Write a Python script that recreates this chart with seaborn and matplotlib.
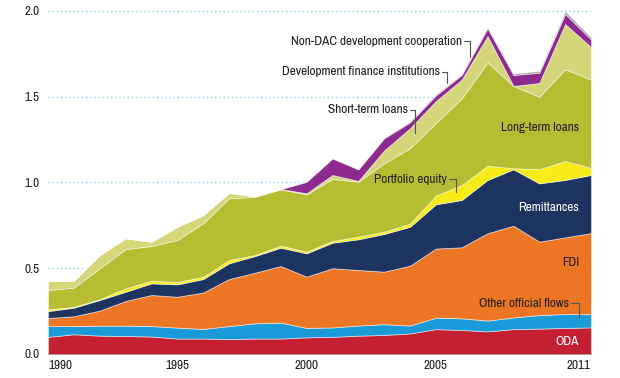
import numpy as np
import pandas as pd
import matplotlib
matplotlib.use("Agg")
import matplotlib.pyplot as plt
from matplotlib import font_manager as fm
import seaborn as sns

years = list(range(1990, 2012))

# layer values, bottom to top
oda = [0.100, 0.115, 0.107, 0.105, 0.102, 0.090, 0.090, 0.087, 0.090, 0.090, 0.097,
       0.100, 0.107, 0.111, 0.120, 0.145, 0.140, 0.132, 0.145, 0.148, 0.152, 0.155]
other_official = [0.063, 0.048, 0.058, 0.060, 0.061, 0.064, 0.056, 0.076, 0.089, 0.093, 0.055,
                  0.055, 0.059, 0.063, 0.046, 0.067, 0.068, 0.063, 0.068, 0.079, 0.081, 0.077]
fdi = [0.047, 0.057, 0.088, 0.144, 0.181, 0.180, 0.212, 0.274, 0.295, 0.330, 0.299,
       0.345, 0.324, 0.306, 0.349, 0.403, 0.414, 0.509, 0.535, 0.428, 0.447, 0.473]
remittances = [0.040, 0.050, 0.062, 0.054, 0.068, 0.072, 0.079, 0.092, 0.097, 0.107, 0.136,
               0.149, 0.179, 0.220, 0.227, 0.258, 0.276, 0.311, 0.329, 0.340, 0.335, 0.339]
portfolio_equity = [0.010, 0.005, 0.005, 0.020, 0.015, 0.014, 0.013, 0.019, 0.006, 0.012, 0.010,
                    0.010, 0.015, 0.013, 0.018, 0.050, 0.087, 0.083, 0.006, 0.083, 0.110, 0.041]
long_term_loans = [0.113, 0.112, 0.180, 0.229, 0.203, 0.245, 0.312, 0.360, 0.340, 0.328, 0.334,
                   0.361, 0.321, 0.399, 0.440, 0.424, 0.505, 0.602, 0.480, 0.422, 0.535, 0.515]
short_term_loans = [0.054, 0.040, 0.077, 0.063, 0.025, 0.077, 0.048, 0.032, 0.003, 0.002, 0.006,
                    0.024, 0.004, 0.075, 0.116, 0.128, 0.110, 0.154, 0.000, 0.080, 0.264, 0.190]
dfi = [0, 0, 0, 0, 0, 0, 0, 0, 0, 0.000, 0.068,
       0.097, 0.068, 0.071, 0.035, 0.033, 0.027, 0.045, 0.064, 0.060, 0.059, 0.045]
non_dac = [0, 0, 0, 0, 0, 0, 0, 0, 0, 0, 0,
           0, 0, 0.003, 0.005, 0.006, 0.006, 0.008, 0.008, 0.010, 0.015, 0.012]

layers = ["ODA", "Other official flows", "FDI", "Remittances", "Portfolio equity",
          "Long-term loans", "Short-term loans", "Development finance institutions",
          "Non-DAC development cooperation"]
colors = ["#c41f33", "#1a9ad6", "#ec7624", "#1d3461", "#f6eb16",
          "#b7bd33", "#d5d57a", "#8e2a8f", "#9b9b9b"]

df = pd.DataFrame({"year": years, "ODA": oda, "Other official flows": other_official,
                   "FDI": fdi, "Remittances": remittances, "Portfolio equity": portfolio_equity,
                   "Long-term loans": long_term_loans, "Short-term loans": short_term_loans,
                   "Development finance institutions": dfi,
                   "Non-DAC development cooperation": non_dac})

sns.set_theme(style="white")

# the original uses a condensed face; take one if the machine has it
narrow = sorted({f.name for f in fm.fontManager.ttflist
                 if "Narrow" in f.name or "Condensed" in f.name})
if narrow:
    plt.rcParams['font.family'] = [narrow[0], 'Liberation Sans', 'DejaVu Sans']
    fs = 9.5
else:
    plt.rcParams['font.family'] = ['Liberation Sans', 'DejaVu Sans']
    fs = 8.2

fig = plt.figure(figsize=(6.2, 3.78), dpi=100)
ax = fig.add_axes([0.0774, 0.0635, 0.8758, 0.9165])

ax.stackplot(df["year"], [df[c] for c in layers], colors=colors,
             edgecolor=(1, 1, 1, 0.55), linewidth=0.6, zorder=2)

ax.set_xlim(1990, 2011)
ax.set_ylim(0, 2.02)
ax.set_yticks([0.0, 0.5, 1.0, 1.5, 2.0])
ax.set_yticklabels(["0.0", "0.5", "1.0", "1.5", "2.0"])
ax.set_xticks([1990, 1995, 2000, 2005, 2011])
ax.set_xticklabels(["1990", "1995", "2000", "2005", "2011"])
xl = ax.get_xticklabels()
xl[0].set_ha("left")
xl[-1].set_ha("right")

ax.yaxis.grid(True, color="#8fd3e8", linestyle=(0, (1, 2)), linewidth=1.0, zorder=0)
ax.xaxis.grid(False)
ax.set_axisbelow(True)
ax.tick_params(axis="both", length=0, labelsize=fs, colors="#231f20")
ax.tick_params(axis="y", pad=5.8)
ax.tick_params(axis="x", pad=4)
for s in ["top", "right", "left"]:
    ax.spines[s].set_visible(False)
ax.spines["bottom"].set_color("#9a9a9a")
ax.spines["bottom"].set_linewidth(0.6)
ax.spines["bottom"].set_zorder(3)

txt = "#231f20"
lead = "#555555"

def label_with_leader(s, x, y, xe, yd):
    ax.text(x, y, s, ha="right", va="center", fontsize=fs, color=txt, zorder=5)
    ax.plot([x + 0.08, xe, xe], [y, y, yd], color=lead, lw=0.8, zorder=5)

label_with_leader("Non-DAC development cooperation", 2006.01, 1.825, 2006.32, 1.73)
label_with_leader("Development finance institutions", 2005.16, 1.646, 2005.43, 1.58)
label_with_leader("Short-term loans", 2003.92, 1.423, 2004.19, 1.29)
label_with_leader("Portfolio equity", 2005.43, 1.02, 2005.78, 0.945)
label_with_leader("Other official flows", 2010.15, 0.297, 2010.53, 0.21)

ax.text(2010.53, 1.318, "Long-term loans", ha="right", va="center", fontsize=fs, color=txt, zorder=5)
ax.text(2010.53, 0.857, "Remittances", ha="right", va="center", fontsize=fs, color="white", zorder=5)
ax.text(2010.53, 0.536, "FDI", ha="right", va="center", fontsize=fs, color=txt, zorder=5)
ax.text(2010.53, 0.07, "ODA", ha="right", va="center", fontsize=fs, color="white", zorder=5)

fig.savefig("out.png", dpi=100)
